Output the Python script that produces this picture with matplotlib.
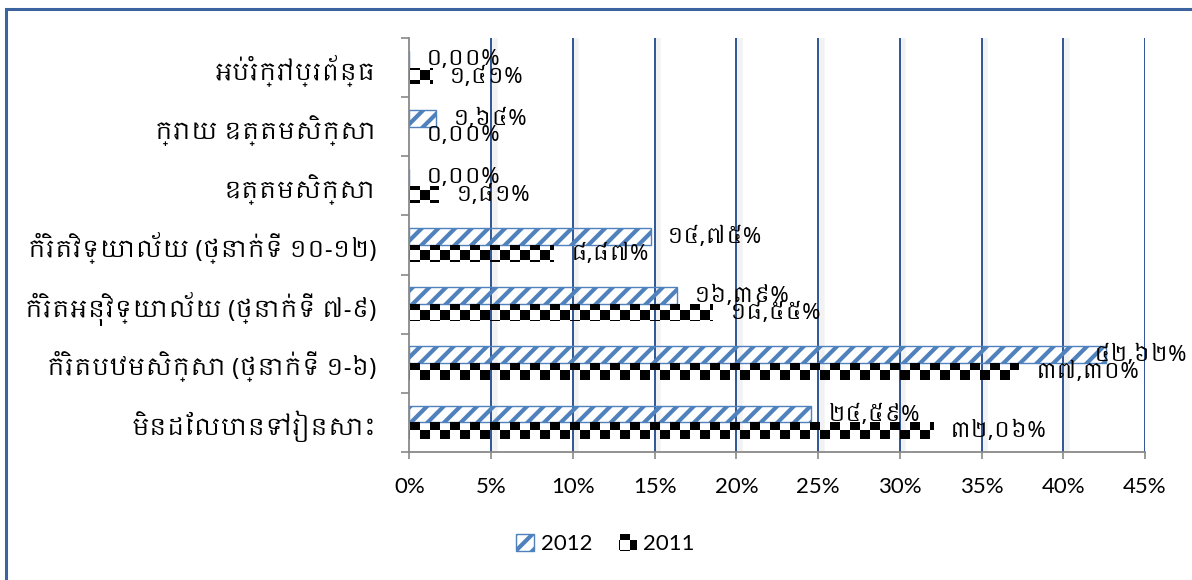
import numpy as np
import matplotlib
matplotlib.use("Agg")
import matplotlib.pyplot as plt
from matplotlib import font_manager as fm
from matplotlib import hatch as mhatch
from matplotlib.path import Path
from matplotlib.patches import Rectangle
import matplotlib.patheffects as pe

# Data (bottom to top, as in the chart)
categories = [
    "មិនដែលបានទៅរៀនសោះ",
    "កំរិតបឋមសិក្សា (ថ្នាក់ទី ១-៦)",
    "កំរិតអនុវិទ្យាល័យ (ថ្នាក់ទី ៧-៩)",
    "កំរិតវិទ្យាល័យ (ថ្នាក់ទី ១០-១២)",
    "ឧត្តមសិក្សា",
    "ក្រោយ ឧត្តមសិក្សា",
    "អប់រំក្រៅប្រព័ន្ធ",
]
values_2012 = [24.59, 42.62, 16.39, 14.75, 0.00, 1.64, 0.00]
values_2011 = [32.06, 37.30, 18.55, 8.87, 1.81, 0.00, 1.41]
series_names = ["2012", "2011"]
x_ticks = [0, 5, 10, 15, 20, 25, 30, 35, 40, 45]

# look for a Khmer font on the system
khmer_files = [f for f in fm.findSystemFonts() if "khmer" in f.lower()]
khmer_names = []
for f in khmer_files:
    try:
        fm.fontManager.addfont(f)
        name = fm.FontProperties(fname=f).get_name()
        if name not in khmer_names:
            khmer_names.append(name)
    except Exception:
        pass
khmer_family = khmer_names + ["DejaVu Sans"]
latin_family = ["Liberation Sans Narrow", "Lato", "DejaVu Sans"]
available = {f.name for f in fm.fontManager.ttflist}
latin_family = [f for f in latin_family if f in available]

plt.rcParams["hatch.linewidth"] = 3.0


# checkerboard hatch, registered in place of the '*' pattern
class CheckerHatch(mhatch.HatchPatternBase):
    def __init__(self, hatch, density):
        self.n = 10 if "*" in hatch else 0
        self.num_vertices = (self.n * self.n // 2) * 5

    def set_vertices_and_codes(self, vertices, codes):
        n = self.n
        lw_frac = plt.rcParams["hatch.linewidth"] * 100 / 72 / 100
        half = 0.5 / n - lw_frac / 2
        k = 0
        for i in range(n):
            for j in range(n):
                if (i + j) % 2:
                    continue
                cx = (i + 0.5) / n
                cy = (j + 0.5) / n
                vertices[k:k + 5] = [[cx - half, cy - half], [cx + half, cy - half],
                                     [cx + half, cy + half], [cx - half, cy + half],
                                     [cx - half, cy - half]]
                codes[k:k + 5] = [Path.MOVETO, Path.LINETO, Path.LINETO,
                                  Path.LINETO, Path.CLOSEPOLY]
                k += 5


mhatch._hatch_types[mhatch._hatch_types.index(mhatch.Stars)] = CheckerHatch


def khmer_num(v):
    s = f"{v:.2f}".replace(".", ",")
    return s.translate(str.maketrans("0123456789", "០១២៣៤៥៦៧៨៩")) + "%"


fig = plt.figure(figsize=(11.92, 5.80), dpi=100)
ax = fig.add_axes([0.3435, 0.2207, 0.6171, 0.7138])

y = np.arange(len(categories))
h = 0.285
b12 = ax.barh(y + h / 2, values_2012, height=h, facecolor="none",
              edgecolor="#4F81BD", linewidth=1.0, hatch="//", label=series_names[0])
b11 = ax.barh(y - h / 2, values_2011, height=h, facecolor="none",
              edgecolor="black", linewidth=0, hatch="*", label=series_names[1])

ax.set_xlim(0, 45)
ax.set_ylim(-0.5, len(categories) - 0.5)
ax.set_xticks(x_ticks)
ax.set_xticklabels([f"{t}%" for t in x_ticks], family=latin_family, fontsize=16)
ax.tick_params(axis="x", length=5, width=1.2, color="#898989", pad=13)

ax.set_yticks(np.arange(-0.5, len(categories), 1.0))
ax.set_yticklabels([])
ax.set_yticks(y, minor=True)
ax.set_yticklabels(categories, minor=True, family=khmer_family, fontsize=17)
ax.tick_params(axis="y", which="major", length=6, width=1.2, color="#898989")
ax.tick_params(axis="y", which="minor", length=0, pad=24)

for s in ["top", "right"]:
    ax.spines[s].set_visible(False)
for s in ["left", "bottom"]:
    ax.spines[s].set_color("#898989")
    ax.spines[s].set_linewidth(1.3)

ax.set_axisbelow(True)
ax.xaxis.grid(True, color="#2F5597", linewidth=1.4)
for gl in ax.get_xgridlines():
    gl.set_path_effects([pe.SimpleLineShadow(offset=(2.5, 0), shadow_color="#999999",
                                             alpha=0.12, linewidth=4), pe.Normal()])
ax.get_xgridlines()[0].set_visible(False)

# data labels
labels = []
for bars, vals in [(b12, values_2012), (b11, values_2011)]:
    for rect, v in zip(bars, vals):
        t = ax.annotate(khmer_num(v), (rect.get_width(), rect.get_y() + rect.get_height() / 2),
                        xytext=(12, 0), textcoords="offset points", va="center", ha="left",
                        family=khmer_family, fontsize=16, color="black")
        labels.append(t)

leg = fig.legend(handles=[b12, b11], labels=series_names, loc="center", ncol=2,
                 bbox_to_anchor=(0.508, 0.062), frameon=False, handlelength=0.8,
                 handleheight=0.8, handletextpad=0.3, columnspacing=1.2,
                 prop={"family": latin_family, "size": 16})

# chart border (left and top visible)
fig.patches.append(Rectangle((6 / 1192, -0.2), 1.5, 0.2 + 1 - 9 / 580,
                             transform=fig.transFigure, fill=False,
                             edgecolor="#3A63A0", linewidth=2.2))

# keep labels inside the chart border
fig.canvas.draw()
r = fig.canvas.get_renderer()
limit = fig.bbox.width - 5
for t in labels:
    bb = t.get_window_extent(r)
    if bb.x1 > limit:
        dx = (bb.x1 - limit) * 72 / fig.dpi
        t.set_position((12 - dx, 0))

fig.savefig("out.png", dpi=100)
